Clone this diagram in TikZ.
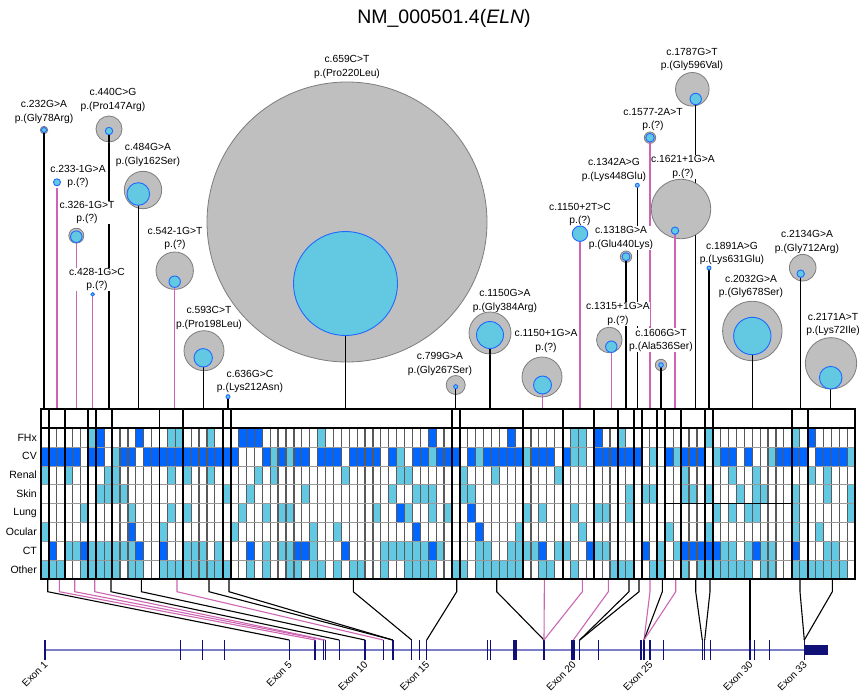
\documentclass[tikz,border=0pt]{standalone}
\usepackage{fontspec}
\setmainfont{Liberation Sans}
\definecolor{cell0}{RGB}{255,255,255}
\definecolor{cell1}{RGB}{99,200,225}
\definecolor{cell2}{RGB}{0,102,255}
\definecolor{greyfill}{RGB}{191,191,191}
\definecolor{greyrim}{RGB}{125,125,125}
\definecolor{bluerim}{RGB}{30,105,255}
\definecolor{pinkc}{RGB}{204,102,178}
\definecolor{navy}{RGB}{16,16,118}
\definecolor{trackc}{RGB}{125,125,200}
\newcommand{\colw}{7.903}
\newcommand{\rowh}{18.875}
\begin{document}
\begin{tikzpicture}[x=1pt, y=-1pt,
    lab/.style = { fill=white, inner sep=0.4pt, align=center, font=\fontsize{10.3}{13.6}\selectfont },
    rowlab/.style = { anchor=east, inner sep=0pt, font=\fontsize{10.5}{12}\selectfont },
    exlab/.style = { anchor=east, rotate=45, inner sep=0pt, font=\fontsize{10}{12}\selectfont },
    outer/.style = { circle, draw=greyrim, fill=greyfill, line width=0.8pt, inner sep=0pt, minimum size=#1 },
    inner/.style = { circle, draw=bluerim, fill=cell1, line width=0.9pt, inner sep=0pt, minimum size=#1 },
    stem/.style = { line width=1.3pt },
    colline/.style = { line width=1.2pt, black!65 },
    rowline/.style = { line width=0.5pt, black!40 },
    grpline/.style = { line width=1.9pt, black },
    track/.style = { line width=1.3pt, trackc }
    ]
\useasboundingbox (0,0) rectangle (861,698);
\node[font=\fontsize{19.5}{22}\selectfont] (title) at (444,18) {NM\_000501.4(\textit{ELN})};
\coordinate (hdr) at (0,409);
%
% centres of the inner circles
\coordinate (c232) at (44,130);
\coordinate (c233) at (57,182.3);
\coordinate (c326) at (76.3,236.7);
\coordinate (c428) at (92.7,294.3);
\coordinate (c440) at (109,131);
\coordinate (c484) at (138.3,194);
\coordinate (c542) at (174.7,281.7);
\coordinate (c593) at (203.2,357.8);
\coordinate (c636) at (228,396.7);
\coordinate (c659) at (345.5,283.5);
\coordinate (c799) at (455.7,386.7);
\coordinate (c1150) at (490,335);
\coordinate (c1151) at (542.5,385);
\coordinate (c1152) at (580,233.7);
\coordinate (c1315) at (611.3,346.7);
\coordinate (c1318) at (626,256.7);
\coordinate (c1342) at (637.3,185.3);
\coordinate (c1577) at (650,137.7);
\coordinate (c1606) at (661,365);
\coordinate (c1621) at (675,230.7);
\coordinate (c1787) at (695.7,99);
\coordinate (c1891) at (709,268);
\coordinate (c2032) at (752.3,336);
\coordinate (c2134) at (800.7,273.7);
\coordinate (c2171) at (830.7,377.7);
%
\foreach \v/\col in {232/black, 233/pinkc, 326/pinkc, 428/pinkc, 440/black,
        484/black, 542/pinkc, 593/black, 636/black, 659/black, 799/black,
        1150/black, 1151/pinkc, 1152/pinkc, 1315/pinkc, 1318/black, 1342/black,
        1577/pinkc, 1606/black, 1621/pinkc, 1787/black, 1891/black, 2032/black,
        2134/black, 2171/black}
\draw[stem,\col] (c\v) -- (c\v |- hdr);
%
\node[lab] (l232) at (44,112) {c.232G>A\\p.(Gly78Arg)};
\node[lab] (l233) at (78,176.5) {c.233-1G>A\\p.(?)};
\node[lab] (l326) at (87,212.5) {c.326-1G>T\\p.(?)};
\node[lab] (l428) at (97,279.5) {c.428-1G>C\\p.(?)};
\node[lab] (l440) at (113,100) {c.440C>G\\p.(Pro147Arg)};
\node[lab] (l484) at (148,155) {c.484G>A\\p.(Gly162Ser)};
\node[lab] (l542) at (175,238.5) {c.542-1G>T\\p.(?)};
\node[lab] (l593) at (209,318) {c.593C>T\\p.(Pro198Leu)};
\node[lab] (l636) at (250,381.5) {c.636G>C\\p.(Lys212Asn)};
\node[lab] (l659) at (347,67) {c.659C>T\\p.(Pro220Leu)};
\node[lab] (l799) at (440,364) {c.799G>A\\p.(Gly267Ser)};
\node[lab] (l1150) at (505,301) {c.1150G>A\\p.(Gly384Arg)};
\node[lab] (l1151) at (546,341) {c.1150+1G>A\\p.(?)};
\node[lab] (l1152) at (580,214.5) {c.1150+2T>C\\p.(?)};
\node[lab] (l1315) at (618,313.7) {c.1315+1G>A\\p.(?)};
\node[lab] (l1318) at (621,237.7) {c.1318G>A\\p.(Glu440Lys)};
\node[lab] (l1342) at (614,170) {c.1342A>G\\p.(Lys448Glu)};
\node[lab] (l1577) at (653,119.3) {c.1577-2A>T\\p.(?)};
\node[lab] (l1606) at (661,340.3) {c.1606G>T\\p.(Ala536Ser)};
\node[lab] (l1621) at (683,166.7) {c.1621+1G>A\\p.(?)};
\node[lab] (l1787) at (692,59.3) {c.1787G>T\\p.(Gly596Val)};
\node[lab] (l1891) at (732,253.3) {c.1891A>G\\p.(Lys631Glu)};
\node[lab] (l2032) at (751,286.3) {c.2032G>A\\p.(Gly678Ser)};
\node[lab] (l2134) at (807,242) {c.2134G>A\\p.(Gly712Arg)};
\node[lab] (l2171) at (833,324.5) {c.2171A>T\\p.(Lys72Ile)};
%
\node[outer=7.4pt] (g232) at (44,130) {};
\node[outer=15pt] (g326) at (76.3,235.7) {};
\node[outer=26pt] (g440) at (109,129) {};
\node[outer=37.4pt] (g484) at (143,190) {};
\node[outer=37.4pt] (g542) at (174.7,270.7) {};
\node[outer=40pt] (g593) at (204,350.7) {};
\node[outer=280pt] (g659) at (347,222) {};
\node[outer=19pt] (g799) at (455.7,385) {};
\node[outer=42pt] (g1150) at (490,333) {};
\node[outer=40pt] (g1151) at (542,377) {};
\node[outer=25.6pt] (g1315) at (609.3,340) {};
\node[outer=11.4pt] (g1318) at (626,256.7) {};
\node[outer=11.4pt] (g1577) at (650,137.7) {};
\node[outer=11.4pt] (g1606) at (661,365) {};
\node[outer=59.4pt] (g1621) at (681,209) {};
\node[outer=33.6pt] (g1787) at (692.3,89.3) {};
\node[outer=59.4pt] (g2032) at (752.3,331) {};
\node[outer=26.6pt] (g2134) at (802.7,267.7) {};
\node[outer=51.4pt] (g2171) at (831,363.3) {};
%
\foreach \v/\col in {232/black, 326/pinkc, 440/black, 484/black, 542/pinkc,
        593/black, 659/black, 799/black, 1150/black, 1151/pinkc, 1315/pinkc,
        1318/black, 1577/pinkc, 1606/black, 1621/pinkc, 1787/black, 2032/black,
        2134/black, 2171/black}
\draw[stem,\col] (c\v) -- (c\v |- g\v.south);
%
\foreach \v/\d in {232/5, 233/7, 326/11.6, 428/3.6, 440/7.4, 484/22.6, 542/11.4,
        593/18.4, 636/4, 659/104, 799/4, 1150/27, 1151/18, 1152/15.4, 1315/11.4,
        1318/8, 1342/4, 1577/8.6, 1606/4.6, 1621/7.4, 1787/11.4, 1891/4,
        2032/37.4, 2134/7.4, 2171/22.6}
\node[inner=\d pt] (i\v) at (c\v) {};
%
% phenotype grid
\foreach \r/\vals in {%
    1/{0,0,0,0,0,0,1,2,0,0, 0,0,2,0,0,0,1,1,0,0, 0,1,0,0,0,2,2,2,0,0, 0,0,0,0,0,1,0,0,0,0, 0,0,0,0,0,0,0,0,0,2, 0,0,0,0,0,0,0,0,0,2, 0,0,0,0,0,0,0,1,1,0, 2,0,0,1,0,0,0,0,0,0, 0,0,0,0,1,0,0,0,0,0, 0,0,0,0,0,1,0,2,0,0, 0,0,0},
    2/{2,2,2,2,2,0,2,2,0,1, 2,2,0,2,2,2,2,2,2,2, 2,2,2,2,2,0,0,0,2,1, 2,1,2,2,0,2,2,2,0,2, 2,2,2,0,2,1,0,2,2,1, 2,2,2,0,2,1,2,2,2,2, 2,1,2,2,2,0,2,1,1,0, 2,2,2,2,2,2,0,1,0,2, 1,2,2,2,0,1,2,2,0,2, 0,0,1,2,2,2,2,0,2,2, 2,2,1},
    3/{1,0,0,1,0,0,0,0,1,1, 0,0,0,0,0,0,1,0,1,0, 0,1,0,0,0,0,0,1,0,1, 0,0,0,0,0,0,0,0,1,0, 0,0,0,0,0,1,1,0,0,0, 0,0,0,1,0,0,0,1,0,0, 0,0,0,0,0,1,0,0,0,0, 0,0,0,0,0,0,0,0,0,0, 0,1,0,0,0,0,0,1,0,0, 1,0,0,0,0,0,0,1,0,1, 0,0,0},
    4/{0,0,0,0,0,0,0,1,1,1, 1,0,0,0,0,0,0,0,0,0, 0,0,0,1,0,0,1,0,0,0, 0,0,0,1,0,0,0,0,0,0, 0,0,0,0,1,0,0,1,1,1, 0,0,0,1,1,0,0,0,0,0, 0,0,0,0,0,0,0,0,0,0, 0,0,0,0,1,0,1,1,0,0, 0,1,1,0,1,0,0,0,1,0, 1,1,0,0,0,1,0,0,0,1, 0,0,1},
    5/{0,0,0,0,0,1,0,0,0,0, 0,1,0,0,0,0,1,0,1,0, 0,0,0,0,0,1,0,0,1,0, 1,1,0,0,0,0,0,0,0,0, 0,0,1,0,0,2,1,0,0,1, 0,1,0,0,2,0,0,0,0,0, 0,1,0,1,0,0,0,1,0,0, 1,1,0,0,1,0,0,0,0,0, 0,0,0,0,0,1,0,1,0,1, 1,0,0,0,0,1,0,0,0,0, 0,0,1},
    6/{1,0,0,0,0,0,0,0,0,0, 0,2,0,0,0,1,0,0,0,0, 0,0,0,0,1,0,0,0,0,0, 0,0,0,0,1,0,0,1,0,0, 0,0,0,0,0,0,0,2,0,0, 0,0,0,0,0,2,0,0,0,0, 1,0,0,0,0,0,0,0,1,0, 0,0,0,0,0,0,0,0,0,1, 0,0,0,0,1,0,0,0,0,0, 0,0,0,0,0,1,0,0,1,0, 0,0,0},
    7/{0,2,0,1,1,2,1,1,1,1, 1,1,2,0,0,2,0,0,1,1, 1,0,1,0,0,0,2,0,1,0, 1,1,2,2,1,0,0,0,2,0, 0,0,0,1,1,1,1,1,1,2, 1,0,0,0,0,1,1,0,0,1, 1,1,1,2,0,1,1,0,0,2, 1,1,0,0,0,0,2,0,1,0, 1,2,2,2,2,2,1,1,0,1, 2,1,1,0,0,2,0,0,0,1, 1,0,0},
    8/{1,1,1,0,0,1,1,1,1,1, 0,1,1,0,0,1,1,1,1,1, 1,1,1,1,0,0,1,0,1,0, 0,1,1,0,1,1,0,1,0,1, 1,0,0,1,0,0,1,1,1,1, 0,0,1,1,0,1,1,1,1,1, 1,0,0,1,1,0,0,1,0,0, 0,0,1,1,1,0,0,1,1,0, 0,1,0,1,1,1,1,1,1,1, 0,1,1,0,0,1,1,1,1,1, 1,1,0}%
    }
    \foreach \v [count=\c] in \vals
    \fill[cell\v] ({41+(\c-1)*\colw},{428+(\r-1)*\rowh}) rectangle ++(\colw,\rowh);
%
\foreach \c in {1,...,102}
\draw[colline] ({41+\c*\colw},428) -- ++(0,151);
\foreach \r in {1,...,7}
\draw[rowline] (41,{428+\r*\rowh}) -- (855,{428+\r*\rowh});
\draw[line width=0.8pt] (665.3,503.5) -- (791.7,503.5);
\foreach \k in {1,3,6,7,9,15,18,23,24,52,53,61,66,70,73,75,76,78,79,81,84,85,95,97}
\draw[grpline] ({41+\k*\colw},409) -- ++(0,170);
\draw[grpline] (41,409) rectangle (855,579);
\draw[grpline] (41,428) -- (855,428);
%
\foreach \r/\t in {1/FHx, 2/CV, 3/Renal, 4/Skin, 5/Lung, 6/Ocular, 7/CT, 8/Other}
\node[rowlab] (row\r) at (37,{428+(\r-0.5)*\rowh}) {\t};
%
% exon track
\draw[track] (45,650) -- (805,650);
\foreach \n/\x/\w in {1/45/2.2, 2/180.3/1.2, 3/202.3/1.2, 4/224.3/1.2, 5/289.3/1.2,
        6/315.3/2.2, 7/323.3/1.2, 8/325.2/1.2, 9/339.3/1.2, 10/365/2.2, 11/383.3/1.2,
        12/392.7/2.2, 13/411.7/1.2, 14/419.3/1.2, 15/426.7/1.2, 16/487.7/1.2,
        17/490.3/1.2, 18/515/4, 19/544/1.2, 20/573.3/4, 21/579.7/1.2, 22/598.7/1.2,
        23/641.3/2.2, 24/644/1.2, 25/650/1.6, 26/663.7/1.2, 27/702.3/1.2,
        28/704.7/1.2, 29/710.7/1.2, 30/750/1.2, 31/754.3/1.2, 32/769.3/1.2,
        33/804.3/1.2} {
    \coordinate (e\n) at (\x,640);
    \draw[navy, line width=\w pt] (e\n) -- ++(0,20);
}
\fill[navy] (804.3,645.3) rectangle (827.7,654.7);
\foreach \n in {1,5,10,15,20,25,30,33}
\node[exlab] (x\n) at ([xshift=1pt,yshift=-23pt]e\n) {Exon \n};
%
% variant groups down to their exons
\foreach \v/\x/\col/\n in {232/47.7/black/5, 233/59.3/pinkc/6, 326/74.7/pinkc/7,
        428/94.7/pinkc/8, 440/111/black/9, 484/141.3/black/10, 542/177/pinkc/11,
        593/209/black/12, 636/229/black/12, 659/353.3/black/13, 799/456.7/black/15,
        1150/496.7/black/19, 1151/544.3/pinkc/19, 1152/582.3/pinkc/19,
        1315/608.3/pinkc/20, 1318/629/black/21, 1342/639/black/21,
        1577/650/pinkc/24, 1606/662.3/black/24, 1621/675.7/pinkc/24,
        1787/695.7/black/27, 1891/710/black/28, 2032/750/black/30,
        2134/800/black/33, 2171/832.3/black/33} {
    \coordinate (b\v) at (\x,580);
    \draw[stem,\col, line width=1.1pt] (b\v) -- ++(0,11.7) -- (e\n);
}
\end{tikzpicture}
\end{document}
